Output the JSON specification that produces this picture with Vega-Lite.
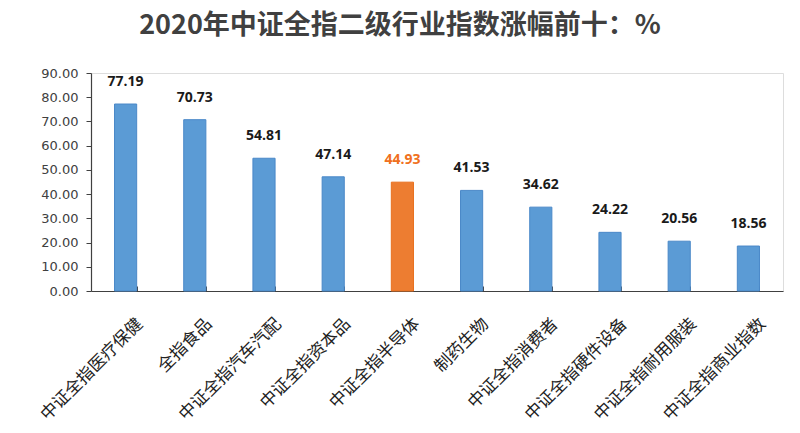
{
  "$schema": "https://vega.github.io/schema/vega-lite/v6.json",
  "width": 692,
  "height": 218,
  "autosize": {"type": "none"},
  "padding": {"left": 91, "top": 73, "right": 17, "bottom": 142},
  "background": "white",
  "title": {
    "text": "2020年中证全指二级行业指数涨幅前十：%",
    "fontSize": 27,
    "fontWeight": "bold",
    "font": "Noto Sans CJK SC",
    "color": "#404040",
    "anchor": "middle",
    "dx": -37,
    "baseline": "bottom",
    "offset": 0
  },
  "data": {
    "values": [
      {"name": "中证全指医疗保健", "value": 77.19, "hl": "n"},
      {"name": "全指食品", "value": 70.73, "hl": "n"},
      {"name": "中证全指汽车汽配", "value": 54.81, "hl": "n"},
      {"name": "中证全指资本品", "value": 47.14, "hl": "n"},
      {"name": "中证全指半导体", "value": 44.93, "hl": "y"},
      {"name": "制药生物", "value": 41.53, "hl": "n"},
      {"name": "中证全指消费者", "value": 34.62, "hl": "n"},
      {"name": "中证全指硬件设备", "value": 24.22, "hl": "n"},
      {"name": "中证全指耐用服装", "value": 20.56, "hl": "n"},
      {"name": "中证全指商业指数", "value": 18.56, "hl": "n"}
    ]
  },
  "encoding": {
    "x": {
      "field": "name",
      "type": "nominal",
      "sort": null,
      "scale": {"paddingInner": 0.68, "paddingOuter": 0.34},
      "axis": {
        "title": null,
        "labelAngle": -45,
        "labelAlign": "right",
        "labelBaseline": "middle",
        "labelFont": "Noto Sans CJK SC",
        "labelFontSize": 17,
        "labelColor": "#222222",
        "labelPadding": 35,
        "labelOffset": 14,
        "tickBand": "extent",
        "tickSize": -5,
        "tickColor": "#404040",
        "domainColor": "#404040",
        "domainWidth": 1.2
      }
    },
    "y": {
      "field": "value",
      "type": "quantitative",
      "scale": {"domain": [0, 90], "nice": false},
      "axis": {
        "title": null,
        "values": [0, 10, 20, 30, 40, 50, 60, 70, 80, 90],
        "format": ".2f",
        "grid": false,
        "labelFont": "DejaVu Sans",
        "labelFontSize": 13,
        "labelColor": "#404040",
        "labelPadding": 8,
        "tickSize": 5,
        "tickColor": "#404040",
        "domainColor": "#404040",
        "domainWidth": 1.2
      }
    }
  },
  "layer": [
    {
      "mark": {"type": "bar", "strokeWidth": 1},
      "encoding": {
        "color": {
          "condition": {"test": "datum.hl === 'y'", "value": "#ED7D31"},
          "value": "#5B9BD5"
        },
        "stroke": {
          "condition": {"test": "datum.hl === 'y'", "value": "#E8701E"},
          "value": "#4A88C8"
        }
      }
    },
    {
      "mark": {"type": "text", "dy": -22, "font": "Open Sans", "fontSize": 14, "fontWeight": "bold", "baseline": "middle"},
      "encoding": {
        "text": {"field": "value", "type": "quantitative", "format": ".2f"},
        "color": {
          "condition": {"test": "datum.hl === 'y'", "value": "#F07020"},
          "value": "#1a1a1a"
        }
      }
    }
  ]
}
